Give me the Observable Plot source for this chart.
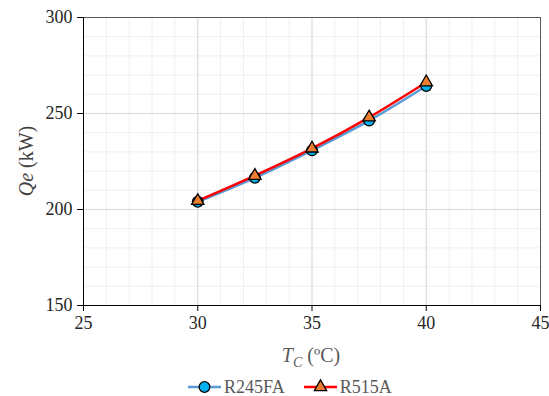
<!DOCTYPE html>
<html><head><meta charset="utf-8">
<script src="https://cdn.jsdelivr.net/npm/d3@7"></script>
<script src="https://cdn.jsdelivr.net/npm/@observablehq/plot@0.6"></script>
<style>
body{margin:0;background:#fff;font-family:'Liberation Serif','Times New Roman',Times,Tinos,'Noto Serif','DejaVu Serif',FreeSerif,'Nimbus Roman',serif;}
#wrap{position:relative;width:549px;height:396px;}
#legend{position:absolute;left:188px;top:377px;height:20px;display:flex;align-items:center;font-size:18px;color:#595959;}
.item{display:flex;align-items:center;}
.item svg{display:block;}
.item span{margin-left:3px;line-height:20px;}
</style></head><body>
<div id="wrap"><div id="chart"></div><div id="legend"></div></div>
<script>
const FONT = "'Liberation Serif', 'Times New Roman', Times, Tinos, 'Noto Serif', 'DejaVu Serif', FreeSerif, 'Nimbus Roman', serif";
const tc = [30, 32.5, 35, 37.5, 40];
const r245fa = [204.0, 216.5, 230.8, 246.3, 264.3];
const r515a = [204.5, 217.6, 231.8, 248.0, 266.3];
const seriesNames = ["R245FA", "R515A"];
const xTicks = [25, 30, 35, 40, 45];
const yTicks = [150, 200, 250, 300];
const xMinor = d3.range(25, 46, 1);
const yMinor = d3.range(150, 301, 10);
const xMajor = [30, 35, 40];
const yMajor = [200, 250];

const d1 = tc.map((t, i) => ({t, q: r245fa[i]}));
const d2 = tc.map((t, i) => ({t, q: r515a[i]}));

const plot = Plot.plot({
  width: 549, height: 377,
  marginLeft: 83, marginRight: 9, marginTop: 17, marginBottom: 72,
  style: {fontFamily: FONT, background: "#fff"},
  x: {domain: [25, 45], label: null},
  y: {domain: [150, 300], label: null},
  marks: [
    Plot.ruleX(xMinor, {stroke: "#efefef", strokeWidth: 1}),
    Plot.ruleY(yMinor, {stroke: "#efefef", strokeWidth: 1}),
    Plot.ruleX(xMajor, {stroke: "#d9d9d9", strokeWidth: 1}),
    Plot.ruleY(yMajor, {stroke: "#d9d9d9", strokeWidth: 1}),
    Plot.ruleY([300], {stroke: "#595959", strokeWidth: 1}),
    Plot.ruleX([45], {stroke: "#595959", strokeWidth: 1}),
    Plot.ruleY([150], {stroke: "#000", strokeWidth: 1}),
    Plot.ruleX([25], {stroke: "#000", strokeWidth: 1}),
    Plot.axisX({ticks: xTicks, tickSize: 6, tickPadding: 5, fontSize: 18, stroke: "#000", color: "#262626", label: null}),
    Plot.axisY({ticks: yTicks, tickSize: 6, tickPadding: 5, fontSize: 18, stroke: "#000", color: "#262626", label: null}),
    Plot.line(d1, {x: "t", y: "q", stroke: "#5B9BD5", strokeWidth: 2.5, curve: "catmull-rom"}),
    Plot.line(d2, {x: "t", y: "q", stroke: "#FF0000", strokeWidth: 2.5, curve: "catmull-rom"}),
    Plot.dot(d1, {x: "t", y: "q", r: 5.3, symbol: "circle", fill: "#00B0F0", stroke: "#000", strokeWidth: 1.3}),
    Plot.dot(d2, {x: "t", y: "q", r: 4.6, symbol: "triangle", fill: "#ED7D31", stroke: "#000", strokeWidth: 1.3})
  ]
});
document.getElementById("chart").appendChild(plot);
d3.select(plot).selectAll("text").attr("font-family", FONT);

const svg = d3.select(plot);
// y-axis title
const yt = svg.append("text")
  .attr("transform", "translate(33,161) rotate(-90)")
  .attr("text-anchor", "middle")
  .attr("font-size", 20).attr("fill", "#404040")
  .attr("font-family", FONT);
yt.append("tspan").attr("font-style", "italic").text("Qe");
yt.append("tspan").text(" (kW)");
// x-axis title
const xt = svg.append("text")
  .attr("x", 311).attr("y", 362)
  .attr("text-anchor", "middle")
  .attr("font-size", 20).attr("fill", "#595959")
  .attr("font-family", FONT);
xt.append("tspan").attr("font-style", "italic").text("T");
xt.append("tspan").attr("font-style", "italic").attr("font-size", 14).attr("dy", 5).text("C");
xt.append("tspan").attr("dy", -5).text(" (ºC)");

// legend
const legend = d3.select("#legend");
const items = [
  {name: seriesNames[0], line: "#5B9BD5", fill: "#00B0F0", sym: d3.symbolCircle, size: 90},
  {name: seriesNames[1], line: "#FF0000", fill: "#ED7D31", sym: d3.symbolTriangle, size: 66}
];
items.forEach((it, i) => {
  const div = legend.append("div").attr("class", "item").style("margin-left", i ? "19px" : "0px");
  const s = div.append("svg").attr("width", 33).attr("height", 20);
  s.append("line").attr("x1", 0).attr("x2", 33).attr("y1", 10).attr("y2", 10).attr("stroke", it.line).attr("stroke-width", 2.5);
  s.append("path").attr("d", d3.symbol(it.sym, it.size)()).attr("transform", "translate(16.5,10)")
    .attr("fill", it.fill).attr("stroke", "#000").attr("stroke-width", 1.3);
  div.append("span").text(it.name);
});
</script></body></html>
